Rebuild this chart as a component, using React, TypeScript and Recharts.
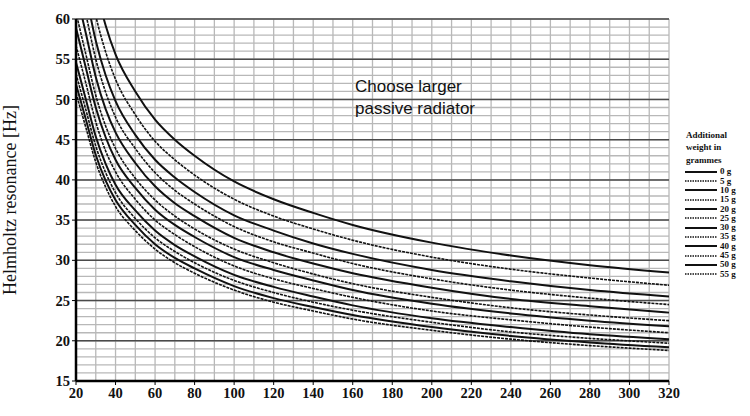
import { LineChart, Line, XAxis, YAxis, CartesianGrid } from 'recharts';

// box volume in litres (x axis)
const volumes = [20, 25, 30, 35, 40, 50, 60, 70, 80, 100, 120, 140, 160, 200, 240, 280, 320];

// Helmholtz resonance (Hz) per additional weight
const w0 = [77, 70.5, 64, 59.2, 55.6, 51.0, 47.5, 45.0, 43.0, 39.8, 37.6, 35.9, 34.4, 32.2, 30.6, 29.4, 28.5];
const w5 = [72.7, 66.6, 60.4, 55.9, 52.5, 48.1, 44.8, 42.5, 40.6, 37.6, 35.5, 33.9, 32.5, 30.4, 28.9, 27.8, 26.9];
const w10 = [68.9, 63.1, 57.3, 53.0, 49.8, 45.6, 42.5, 40.3, 38.5, 35.6, 33.7, 32.1, 30.8, 28.8, 27.4, 26.3, 25.5];
const w15 = [66.2, 60.6, 55.0, 50.9, 47.8, 43.9, 40.9, 38.7, 37.0, 34.2, 32.3, 30.9, 29.6, 27.7, 26.3, 25.3, 24.5];
const w20 = [63.5, 58.2, 52.8, 48.8, 45.9, 42.1, 39.2, 37.1, 35.5, 32.8, 31.0, 29.6, 28.4, 26.6, 25.2, 24.3, 23.5];
const w25 = [60.8, 55.6, 50.5, 46.7, 43.9, 40.2, 37.5, 35.5, 33.9, 31.4, 29.7, 28.3, 27.1, 25.4, 24.1, 23.2, 22.5];
const w30 = [58.9, 53.9, 49.0, 45.3, 42.5, 39.0, 36.3, 34.4, 32.9, 30.4, 28.8, 27.5, 26.3, 24.6, 23.4, 22.5, 21.8];
const w35 = [56.7, 52.0, 47.2, 43.6, 41.0, 37.6, 35.0, 33.2, 31.7, 29.3, 27.7, 26.5, 25.4, 23.7, 22.6, 21.7, 21.0];
const w40 = [54.6, 50.0, 45.4, 42.0, 39.4, 36.2, 33.7, 31.9, 30.5, 28.2, 26.7, 25.5, 24.4, 22.8, 21.7, 20.8, 20.2];
const w45 = [53.2, 48.7, 44.2, 40.9, 38.4, 35.2, 32.8, 31.1, 29.7, 27.5, 26.0, 24.8, 23.8, 22.3, 21.1, 20.3, 19.7];
const w50 = [51.9, 47.5, 43.1, 39.9, 37.5, 34.4, 32.0, 30.3, 29.0, 26.8, 25.3, 24.2, 23.2, 21.7, 20.6, 19.8, 19.2];
const w55 = [50.8, 46.5, 42.2, 39.1, 36.7, 33.7, 31.4, 29.7, 28.4, 26.3, 24.8, 23.7, 22.7, 21.3, 20.2, 19.4, 18.8];

const seriesNames = ['0 g', '5 g', '10 g', '15 g', '20 g', '25 g', '30 g', '35 g', '40 g', '45 g', '50 g', '55 g'];
const seriesValues = [w0, w5, w10, w15, w20, w25, w30, w35, w40, w45, w50, w55];

const xTicks = [20, 40, 60, 80, 100, 120, 140, 160, 180, 200, 220, 240, 260, 280, 300, 320];
const yTicks = [15, 20, 25, 30, 35, 40, 45, 50, 55, 60];
const xMinor = [20, 30, 40, 50, 60, 70, 80, 90, 100, 110, 120, 130, 140, 150, 160, 170, 180, 190, 200, 210, 220, 230, 240, 250, 260, 270, 280, 290, 300, 310, 320];
const yMinor = [15, 16, 17, 18, 19, 20, 21, 22, 23, 24, 25, 26, 27, 28, 29, 30, 31, 32, 33, 34, 35, 36, 37, 38, 39, 40, 41, 42, 43, 44, 45, 46, 47, 48, 49, 50, 51, 52, 53, 54, 55, 56, 57, 58, 59, 60];

const data = volumes.map((v, i) => {
  const row: any = { v };
  seriesValues.forEach((s, k) => { row['w' + k] = s[i]; });
  return row;
});

const serif = '"Liberation Serif", "DejaVu Serif", serif';
const tickStyle = { fontFamily: serif, fontWeight: 700, fontSize: 14.5, fill: '#111' };

const LegendBox = () => (
  <div style={{ position: 'absolute', left: 685, top: 129, width: 65, fontFamily: serif, fontWeight: 700,
    fontSize: 9, color: '#111', lineHeight: '12.4px', whiteSpace: 'nowrap' }}>
    <div style={{ marginLeft: 1 }}>Additional</div>
    <div style={{ marginLeft: 1 }}>weight in</div>
    <div style={{ marginLeft: 1, marginBottom: 1 }}>grammes</div>
    {seriesNames.map((name, i) => (
      <div key={name} style={{ display: 'flex', alignItems: 'center', height: 9.3, overflow: 'visible' }}>
        <svg width={32} height={6} style={{ marginRight: 3, flex: 'none' }}>
          <line x1={0} y1={3} x2={32} y2={3} stroke="#111"
            strokeWidth={i % 2 === 0 ? 2 : 1.4}
            strokeDasharray={i % 2 === 0 ? undefined : '1.5 1'} />
        </svg>
        <span style={{ fontSize: 9, lineHeight: '9px', flex: 'none' }}>{name}</span>
      </div>
    ))}
  </div>
);

export default function App() {
  return (
    <div style={{ position: 'absolute', left: 0, top: 0, width: 750, height: 416, background: '#fff' }}>
      <LineChart width={750} height={416} data={data} margin={{ top: 19, right: 81, bottom: 0, left: 0 }}>
        <CartesianGrid stroke="#b8b8b8" strokeWidth={1.3} horizontalValues={yMinor} verticalValues={xMinor} />
        <CartesianGrid stroke="#4a4a4a" strokeWidth={1.5} horizontalValues={yTicks} vertical={false} />
        <XAxis type="number" dataKey="v" domain={[20, 320]} ticks={xTicks} interval={0}
          axisLine={{ stroke: '#000', strokeWidth: 2.5 }} tickLine={{ stroke: '#000' }} tickSize={4}
          tick={tickStyle} tickMargin={3} height={35} />
        <YAxis type="number" domain={[15, 60]} ticks={yTicks} allowDataOverflow interval={0}
          axisLine={{ stroke: '#000', strokeWidth: 2.5 }} tickLine={{ stroke: '#000' }} tickSize={4}
          tick={tickStyle} width={76}
          label={{ value: 'Helmholtz resonance [Hz]', angle: -90, position: 'insideLeft', offset: 10,
            style: { fontFamily: serif, fontSize: 18, fill: '#111', textAnchor: 'middle' } }} />
        {seriesNames.map((name, i) => (
          <Line key={name} name={name} dataKey={'w' + i} type="monotone" stroke="#111"
            strokeWidth={i % 2 === 0 ? 2 : 1.6}
            strokeDasharray={i % 2 === 0 ? undefined : '3 1'}
            dot={false} isAnimationActive={false} />
        ))}
      </LineChart>
      <LegendBox />
      <div style={{ position: 'absolute', left: 355, top: 76, fontFamily: '"Liberation Sans", sans-serif', fontSize: 17, lineHeight: '22px', color: '#111' }}>
        Choose larger<br />passive radiator
      </div>
    </div>
  );
}
